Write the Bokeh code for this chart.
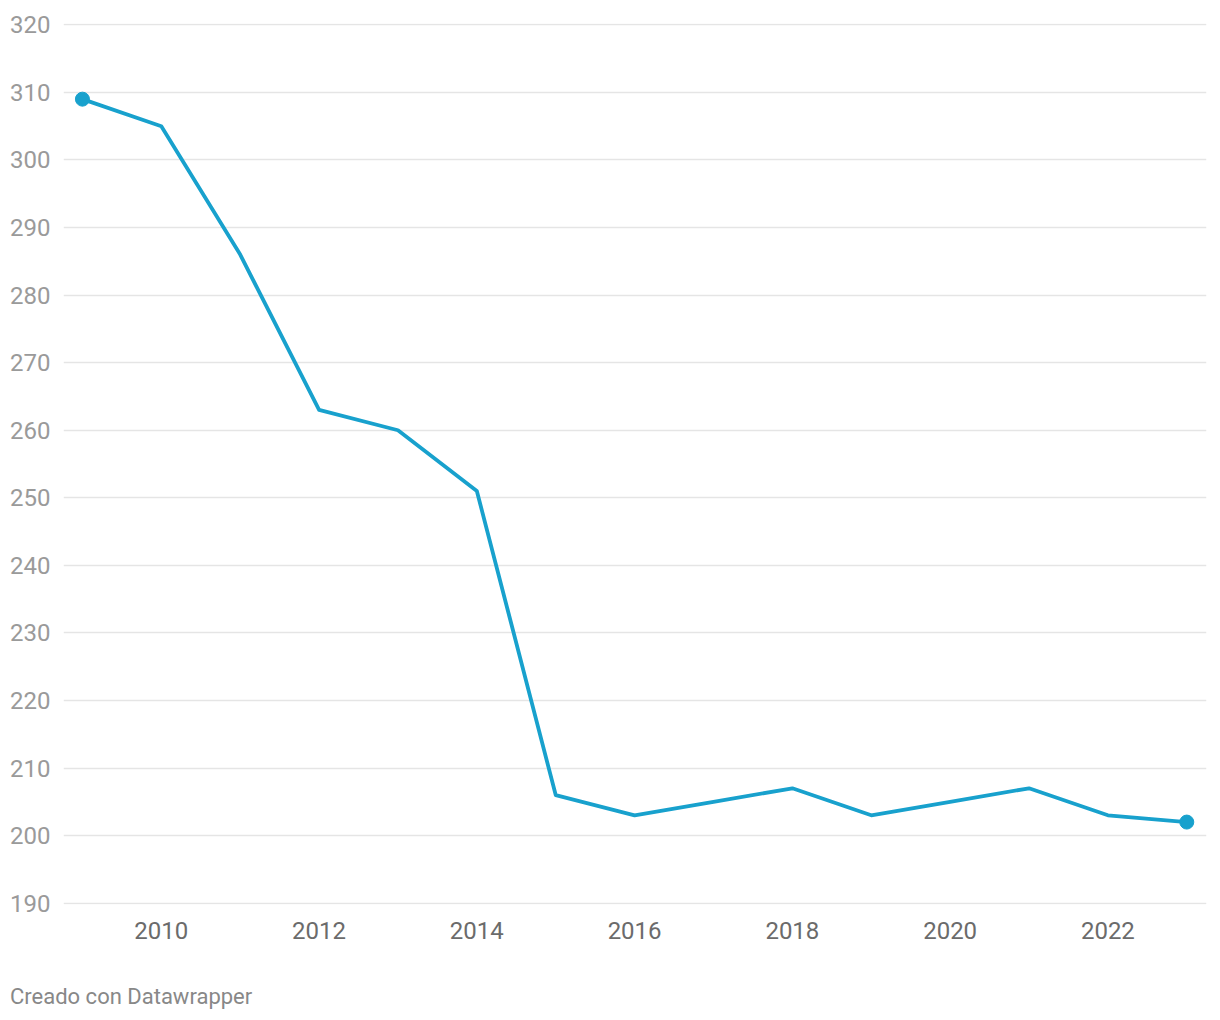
from bokeh.plotting import figure
from bokeh.models import Range1d, FixedTicker, Div
from bokeh.layouts import column
from bokeh.embed import file_html
from bokeh.resources import INLINE

years = [2009, 2010, 2011, 2012, 2013, 2014, 2015, 2016, 2017, 2018, 2019, 2020, 2021, 2022, 2023]
values = [309, 305, 286, 263, 260, 251, 206, 203, 205, 207, 203, 205, 207, 203, 202]
x_ticks = [2010, 2012, 2014, 2016, 2018, 2020, 2022]
y_ticks = [190, 200, 210, 220, 230, 240, 250, 260, 270, 280, 290, 300, 310, 320]
footer_text = "Creado con Datawrapper"

FONT = "Roboto"
LINE = "#18a1cd"

p = figure(width=1212, height=975, output_backend="svg", toolbar_location=None,
           x_range=Range1d(2008.76, 2023.25), y_range=Range1d(189.8, 320.2),
           min_border_left=63, min_border_right=6, min_border_top=23, min_border_bottom=71)
p.outline_line_color = None
p.background_fill_color = "white"
p.border_fill_color = "white"

p.line(years, values, line_color=LINE, line_width=3.8, line_join="round")
p.scatter([years[0], years[-1]], [values[0], values[-1]], size=14, color=LINE)

p.xaxis.ticker = FixedTicker(ticks=x_ticks)
p.yaxis.ticker = FixedTicker(ticks=y_ticks)
for ax in (p.xaxis, p.yaxis):
    ax.axis_line_color = None
    ax.major_tick_line_color = None
    ax.minor_tick_line_color = None
    ax.major_label_text_font = FONT
    ax.major_label_text_font_size = "24px"
p.yaxis.major_label_text_color = "#9a9a9a"
p.xaxis.major_label_text_color = "#6b6b6b"
p.yaxis.major_label_standoff = 7
p.xaxis.major_label_standoff = 11

p.xgrid.grid_line_color = None
p.ygrid.grid_line_color = "#e5e5e5"
p.ygrid.grid_line_width = 1.5

footer = Div(text=footer_text, width=600, height=30, margin=(9, 0, 0, 10),
             styles={"font-family": "Roboto", "font-size": "22px", "color": "#888888",
                     "line-height": "26px"})

layout = column(p, footer, spacing=0)
open("out.html", "w").write(file_html(layout, INLINE))
